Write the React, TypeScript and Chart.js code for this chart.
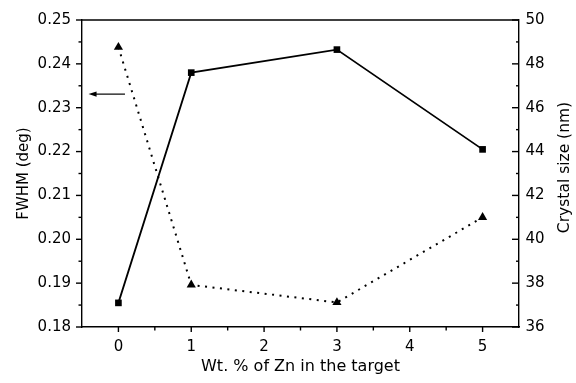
import { useEffect, useRef } from 'react';
import { Chart, registerables } from 'chart.js';

Chart.register(...registerables);

// ---- data ----
const znWt = [0, 1, 3, 5];
const fwhm = [0.2438, 0.1896, 0.1856, 0.205];
const crystalSize = [37.1, 47.6, 48.65, 44.1];

const xTicks = [0, 1, 2, 3, 4, 5];
const xMinorTicks = [0.5, 1.5, 2.5, 3.5, 4.5];
const fwhmTicks = [0.18, 0.19, 0.2, 0.21, 0.22, 0.23, 0.24, 0.25];
const fwhmMinorTicks = [0.185, 0.195, 0.205, 0.215, 0.225, 0.235, 0.245];
const sizeTicks = [36, 38, 40, 42, 44, 46, 48, 50];
const sizeMinorTicks = [37, 39, 41, 43, 45, 47, 49];

const xTitle = 'Wt. % of Zn in the target';
const yTitle = 'FWHM (deg)';
const y1Title = 'Crystal size (nm)';

// arrow pointing to the FWHM series (data coordinates)
const arrowStart = { x: 0.09, y: 0.2331 };
const arrowEnd = { x: -0.41, y: 0.2331 };

const FONT = '"DejaVu Sans", "Liberation Sans", Arial, sans-serif';

const customPlugin = {
  id: 'customDecor',
  afterDraw(chart: any) {
    const { ctx, chartArea: a, scales } = chart;
    const xs = scales.x, ys = scales.y, y1 = scales.y1;
    ctx.save();
    ctx.strokeStyle = '#000';
    ctx.lineWidth = 1.4;
    const line = (x1: number, yA: number, x2: number, yB: number) => {
      ctx.beginPath();
      ctx.moveTo(x1, yA);
      ctx.lineTo(x2, yB);
      ctx.stroke();
    };
    // top frame line
    line(a.left, a.top, a.right, a.top);
    // x ticks (outward)
    xTicks.forEach((v) => { const p = xs.getPixelForValue(v); line(p, a.bottom, p, a.bottom + 5); });
    xMinorTicks.forEach((v) => { const p = xs.getPixelForValue(v); line(p, a.bottom, p, a.bottom + 3.5); });
    // left y ticks (outward)
    fwhmTicks.forEach((v) => { const p = ys.getPixelForValue(v); line(a.left - 6, p, a.left, p); });
    fwhmMinorTicks.forEach((v) => { const p = ys.getPixelForValue(v); line(a.left - 3.5, p, a.left, p); });
    // right y ticks (inward)
    sizeTicks.forEach((v) => { const p = y1.getPixelForValue(v); line(a.right - 7, p, a.right, p); });
    sizeMinorTicks.forEach((v) => { const p = y1.getPixelForValue(v); line(a.right - 3, p, a.right, p); });

    // arrow
    const ax1 = xs.getPixelForValue(arrowStart.x);
    const ay1 = ys.getPixelForValue(arrowStart.y);
    const ax2 = xs.getPixelForValue(arrowEnd.x);
    const ay2 = ys.getPixelForValue(arrowEnd.y);
    ctx.lineWidth = 1.2;
    line(ax1, ay1, ax2 + 6, ay2);
    ctx.fillStyle = '#000';
    ctx.beginPath();
    ctx.moveTo(ax2, ay2);
    ctx.lineTo(ax2 + 8, ay2 - 2.6);
    ctx.lineTo(ax2 + 8, ay2 + 2.6);
    ctx.closePath();
    ctx.fill();

    // right axis title (reads bottom to top)
    ctx.font = `15.5px ${FONT}`;
    ctx.textAlign = 'center';
    ctx.textBaseline = 'middle';
    ctx.translate(chart.width - 11, (a.top + a.bottom) / 2 - 6);
    ctx.rotate(-Math.PI / 2);
    ctx.fillText(y1Title, 0, 0);
    ctx.restore();
  },
};

export default function App() {
  const ref = useRef<HTMLCanvasElement | null>(null);

  useEffect(() => {
    if (!ref.current) return;
    const chart = new Chart(ref.current, {
      type: 'line',
      data: {
        datasets: [
          {
            label: 'Crystal size',
            data: znWt.map((x, i) => ({ x, y: crystalSize[i] })),
            yAxisID: 'y1',
            borderColor: '#000',
            backgroundColor: '#000',
            borderWidth: 1.8,
            pointStyle: 'rect',
            pointRadius: 4.7,
            pointBorderWidth: 0,
            pointBackgroundColor: '#000',
            tension: 0,
          },
          {
            label: 'FWHM',
            data: znWt.map((x, i) => ({ x, y: fwhm[i] })),
            yAxisID: 'y',
            borderColor: '#000',
            backgroundColor: '#000',
            borderWidth: 2,
            borderDash: [2, 5.5],
            pointStyle: 'triangle',
            pointRadius: 5.3,
            pointBorderWidth: 0,
            pointBackgroundColor: '#000',
            tension: 0,
          },
        ],
      },
      options: {
        animation: false,
        responsive: false,
        devicePixelRatio: 1,
        layout: { padding: { top: 17, left: 0, right: 0, bottom: 0 } },
        plugins: { legend: { display: false }, tooltip: { enabled: false } },
        scales: {
          x: {
            type: 'linear',
            min: -0.5,
            max: 5.5,
            afterBuildTicks: (s: any) => { s.ticks = xTicks.map((v) => ({ value: v })); },
            afterFit: (s: any) => { s.height = 56; },
            grid: { display: false, drawTicks: false },
            border: { display: true, color: '#000', width: 1.4 },
            ticks: { color: '#000', padding: 11.5, font: { family: FONT, size: 15 }, callback: (v: any) => String(v) },
            title: { display: true, text: xTitle, color: '#000', font: { family: FONT, size: 16 }, padding: { top: 0, bottom: 7 } },
          },
          y: {
            type: 'linear',
            position: 'left',
            min: 0.18,
            max: 0.25,
            afterBuildTicks: (s: any) => { s.ticks = fwhmTicks.map((v) => ({ value: v })); },
            afterFit: (s: any) => { s.width = 82; },
            grid: { display: false, drawTicks: false },
            border: { display: true, color: '#000', width: 1.4 },
            ticks: { color: '#000', padding: 11, font: { family: FONT, size: 15 }, callback: (v: any) => Number(v).toFixed(2) },
            title: { display: true, text: yTitle, color: '#000', font: { family: FONT, size: 15 }, padding: { top: 15, bottom: 0 } },
          },
          y1: {
            type: 'linear',
            position: 'right',
            min: 36,
            max: 50,
            afterBuildTicks: (s: any) => { s.ticks = sizeTicks.map((v) => ({ value: v })); },
            afterFit: (s: any) => { s.width = 57; },
            grid: { display: false, drawTicks: false },
            border: { display: true, color: '#000', width: 1.4 },
            ticks: { color: '#000', padding: 6.5, font: { family: FONT, size: 15 }, callback: (v: any) => String(v) },
            title: { display: false },
          },
        },
      },
      plugins: [customPlugin],
    } as any);
    return () => chart.destroy();
  }, []);

  return (
    <div style={{ position: 'absolute', left: 0, top: 0, width: 576, height: 383, background: '#fff' }}>
      <canvas ref={ref} width={576} height={383} style={{ display: 'block' }} />
    </div>
  );
}
